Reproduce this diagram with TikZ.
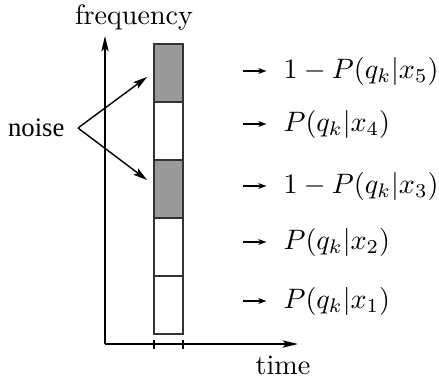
\documentclass[tikz,border=0pt]{standalone}
\usepackage{fontspec}
\newfontfamily\noisefont{Liberation Serif}
\usetikzlibrary{arrows.meta,positioning}
\tikzset{
  cell/.style={draw=black!80, fill=white, line width=0.5pt, minimum width=10.3pt, minimum height=20.65pt, inner sep=0pt, outer sep=0pt},
  hot/.style={cell, fill=black!40},
  axis/.style={line width=0.5pt, -{Stealth[length=5.5pt, width=2.6pt, inset=1.2pt]}},
  arr/.style={line width=0.5pt, -{Stealth[length=5pt, width=2.8pt, inset=1pt]}},
  tip/.style={line width=0.6pt, -{Stealth[length=2.8pt, width=2pt, inset=0.6pt]}},
  lab/.style={anchor=west, inner sep=0pt, font=\fontsize{10.3}{12}\selectfont},
}
\begin{document}
\begin{tikzpicture}[x=0.356pt, y=-0.356pt, node distance=0pt]
\useasboundingbox (0,0) rectangle (439,381);
\coordinate (O) at (105,344);
\coordinate (top) at (105,36);
\coordinate (right) at (298,344);
\draw[axis] (O) -- (top);
\draw[axis] (O) -- (right);
\node (freq) at (134,17) {frequency};
\node (time) at (283,365) {time};
\node[cell] (c1) at (168.5,305) {};
\node[cell, above=of c1] (c2) {};
\node[hot, above=of c2] (c3) {};
\node[cell, above=of c3] (c4) {};
\node[hot, above=of c4] (c5) {};
\draw[line width=0.5pt] (c1.south west |- O) ++(0,-4) -- ++(0,9);
\draw[line width=0.5pt] (c1.south east |- O) ++(0,-4) -- ++(0,9);
\node[anchor=east, inner sep=0pt, font=\noisefont\fontsize{9.5}{11}\selectfont] (noise) at (65,128) {noise};
\coordinate (fork) at (78,128);
\coordinate (hit5) at (147,77);
\coordinate (hit3) at (147,180);
\draw[arr] (fork) -- (hit5);
\draw[arr] (fork) -- (hit3);
\node[lab] (p5) at (283,71) {$1-P(q_k|x_5)$};
\node[lab] (p4) at (283,124) {$P(q_k|x_4)$};
\node[lab] (p3) at (283,186) {$1-P(q_k|x_3)$};
\node[lab] (p2) at (283,242) {$P(q_k|x_2)$};
\node[lab] (p1) at (283,301) {$P(q_k|x_1)$};
\foreach \p in {p1,p2,p3,p4,p5}
  \draw[tip] ([xshift=-14.2pt]\p.west) -- ([xshift=-5.9pt]\p.west);
\end{tikzpicture}
\end{document}
